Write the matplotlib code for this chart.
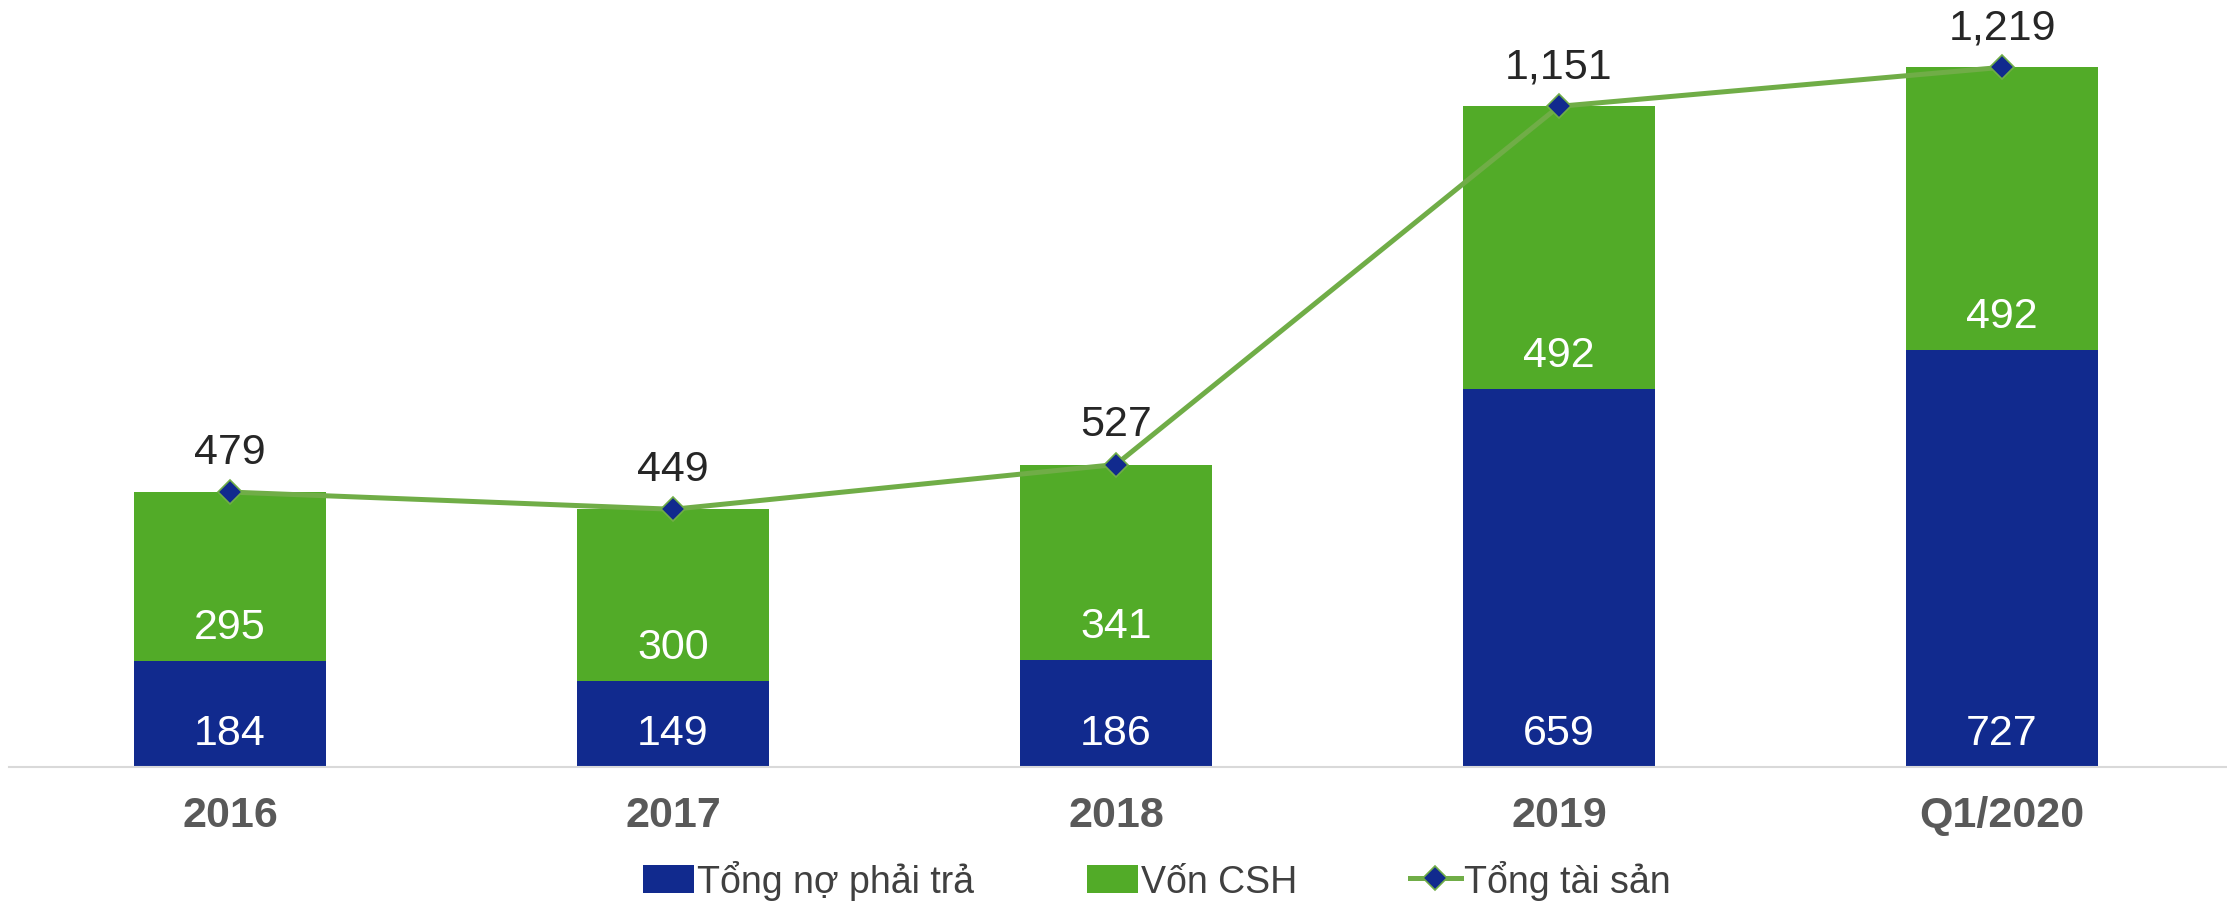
import matplotlib.pyplot as plt
import numpy as np

plt.rcParams['font.family'] = ['Liberation Sans', 'DejaVu Sans']

# data
categories = ['2016', '2017', '2018', '2019', 'Q1/2020']
no_phai_tra = [184, 149, 186, 659, 727]
von_csh = [295, 300, 341, 492, 492]
tong_tai_san = [479, 449, 527, 1151, 1219]
series_names = ['Tổng nợ phải trả', 'Vốn CSH', 'Tổng tài sản']

navy = '#112A8E'
green = '#52AB28'
line_green = '#70AD47'

W, H = 2227, 904
fig = plt.figure(figsize=(W / 100, H / 100), dpi=100)
ax = fig.add_axes([9 / W, (H - 768) / H, 1 - 9 / W, 768 / H])

x = np.arange(len(categories))
width = 0.433
b1 = ax.bar(x, no_phai_tra, width, color=navy, label=series_names[0], zorder=2)
b2 = ax.bar(x, von_csh, width, bottom=no_phai_tra, color=green,
            label=series_names[1], zorder=2)
ln, = ax.plot(x, tong_tai_san, color=line_green, lw=3.6, marker='D', ms=12,
              markerfacecolor=navy, markeredgecolor=line_green, markeredgewidth=1.2,
              label=series_names[2], zorder=3)

# value labels, sitting near the base of each segment
for xi, a, b, t in zip(x, no_phai_tra, von_csh, tong_tai_san):
    ax.annotate(f'{a}', (xi, 0), xytext=(0, 24.5), textcoords='offset points',
                ha='center', va='center', color='white', fontsize=31)
    ax.annotate(f'{b}', (xi, a), xytext=(0, 24.5), textcoords='offset points',
                ha='center', va='center', color='white', fontsize=31)
    ax.annotate(f'{t:,}', (xi, t), xytext=(0, 29), textcoords='offset points',
                ha='center', va='center', color='#262626', fontsize=31)

ax.set_xlim((9 - 230) / 443, (W - 230) / 443)
ax.set_ylim(0, 768 / 0.574)
ax.set_xticks(x)
ax.set_xticklabels(categories, fontsize=31, fontweight='bold', color='#595959')
ax.tick_params(axis='x', length=0, pad=20)
ax.set_yticks([])
for s in ['top', 'right', 'left']:
    ax.spines[s].set_visible(False)
ax.spines['bottom'].set_color('#D9D9D9')
ax.spines['bottom'].set_linewidth(1.5)

fig.legend(handles=[b1, b2, ln], labels=series_names, loc='center',
           bbox_to_anchor=(1157 / W, 1 - 881 / H), ncol=3, frameon=False,
           fontsize=27, handlelength=1.35, handleheight=0.8, handletextpad=0.1,
           columnspacing=3.0, labelcolor='#404040')

fig.savefig('out.png', dpi=100)
